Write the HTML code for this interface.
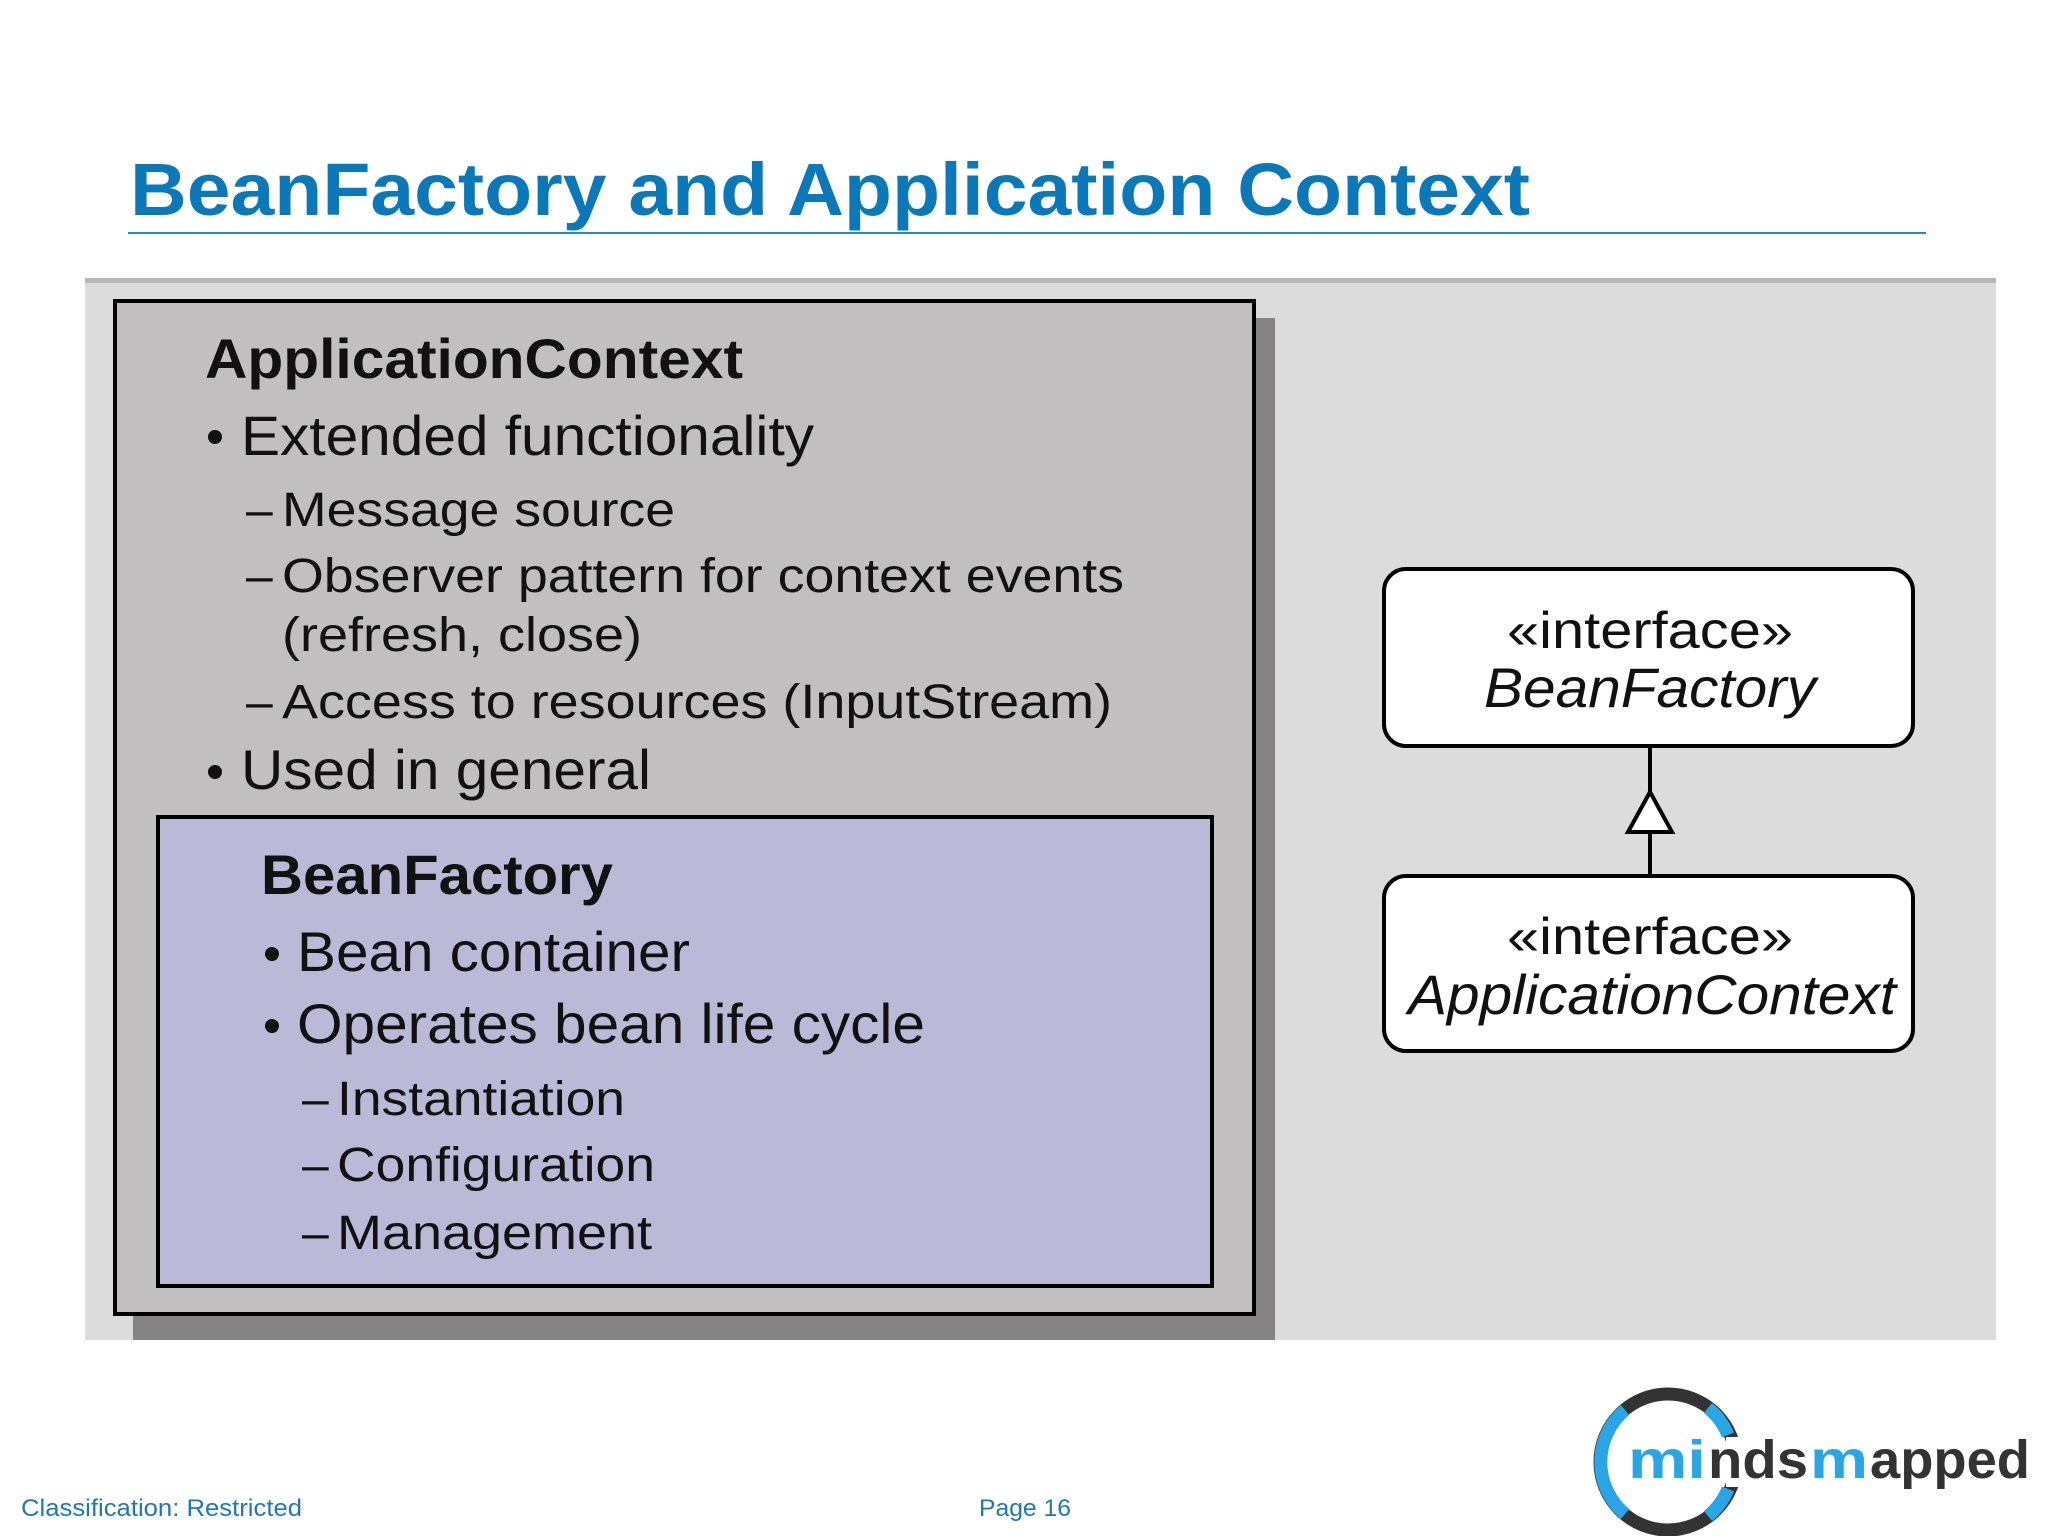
<!DOCTYPE html>
<html><head><meta charset="utf-8"><style>
html,body{margin:0;padding:0;background:#fff;}
svg{display:block;}
</style></head><body>
<svg width="2048" height="1536" viewBox="0 0 2048 1536" xmlns="http://www.w3.org/2000/svg" font-family="Liberation Sans, sans-serif">
<rect width="2048" height="1536" fill="#ffffff"/>
<text x="130" y="215" font-size="74" font-weight="bold" fill="#0a78b9" textLength="1400" lengthAdjust="spacingAndGlyphs">BeanFactory and Application Context</text>
<rect x="128" y="232" width="1798" height="2" fill="#1e8ccc"/>
<rect x="85" y="280" width="1911" height="1060" fill="#dddcdd"/>
<rect x="85" y="278" width="1911" height="5" fill="#b8b8b8"/>
<rect x="133" y="318" width="1142" height="1022" fill="#858383"/>
<rect x="115" y="301" width="1139" height="1013" fill="#c1bfbf" stroke="#000" stroke-width="4"/>
<rect x="158" y="817" width="1054" height="469" fill="#babad8" stroke="#000" stroke-width="4"/>
<g fill="#111">
<text x="205" y="378" font-size="56" font-weight="bold" textLength="538" lengthAdjust="spacingAndGlyphs">ApplicationContext</text>
<circle cx="215" cy="437" r="7"/>
<text x="241" y="455" font-size="56" textLength="573" lengthAdjust="spacingAndGlyphs">Extended functionality</text>
<text x="246" y="526" font-size="48">–</text>
<text x="282" y="526" font-size="48" textLength="393" lengthAdjust="spacingAndGlyphs">Message source</text>
<text x="246" y="592" font-size="48">–</text>
<text x="282" y="592" font-size="48" textLength="842" lengthAdjust="spacingAndGlyphs">Observer pattern for context events</text>
<text x="282" y="651" font-size="48" textLength="360" lengthAdjust="spacingAndGlyphs">(refresh, close)</text>
<text x="246" y="718" font-size="48">–</text>
<text x="282" y="718" font-size="48" textLength="830" lengthAdjust="spacingAndGlyphs">Access to resources (InputStream)</text>
<circle cx="215" cy="772" r="7"/>
<text x="241" y="789" font-size="56" textLength="410" lengthAdjust="spacingAndGlyphs">Used in general</text>
<text x="261" y="894" font-size="56" font-weight="bold" textLength="352" lengthAdjust="spacingAndGlyphs">BeanFactory</text>
<circle cx="272" cy="954" r="7"/>
<text x="297" y="971" font-size="56" textLength="393" lengthAdjust="spacingAndGlyphs">Bean container</text>
<circle cx="272" cy="1026" r="7"/>
<text x="297" y="1043" font-size="56" textLength="628" lengthAdjust="spacingAndGlyphs">Operates bean life cycle</text>
<text x="302" y="1115" font-size="48">–</text>
<text x="337" y="1115" font-size="48" textLength="288" lengthAdjust="spacingAndGlyphs">Instantiation</text>
<text x="302" y="1181" font-size="48">–</text>
<text x="337" y="1181" font-size="48" textLength="318" lengthAdjust="spacingAndGlyphs">Configuration</text>
<text x="302" y="1249" font-size="48">–</text>
<text x="337" y="1249" font-size="48" textLength="315" lengthAdjust="spacingAndGlyphs">Management</text>
</g>
<rect x="1384" y="569" width="529" height="177" rx="22" fill="#fff" stroke="#000" stroke-width="4"/>
<rect x="1384" y="876" width="529" height="175" rx="22" fill="#fff" stroke="#000" stroke-width="4"/>
<line x1="1650" y1="746" x2="1650" y2="876" stroke="#000" stroke-width="4"/>
<polygon points="1650,792 1628,832 1672,832" fill="#fff" stroke="#000" stroke-width="4"/>
<g fill="#111" text-anchor="middle">
<text x="1650" y="648" font-size="52" textLength="286" lengthAdjust="spacingAndGlyphs">«interface»</text>
<text x="1650" y="707" font-size="56" font-style="italic" textLength="332" lengthAdjust="spacingAndGlyphs">BeanFactory</text>
<text x="1650" y="954" font-size="52" textLength="286" lengthAdjust="spacingAndGlyphs">«interface»</text>
<text x="1652" y="1014" font-size="56" font-style="italic" textLength="488" lengthAdjust="spacingAndGlyphs">ApplicationContext</text>
</g>
<text x="21" y="1516" font-size="24" fill="#1e78b4" textLength="281" lengthAdjust="spacingAndGlyphs">Classification: Restricted</text>
<text x="979" y="1516" font-size="24" fill="#1e78b4" textLength="92" lengthAdjust="spacingAndGlyphs">Page 16</text>
<g fill="none" stroke-width="13">
<circle cx="1668" cy="1462" r="68" stroke="#333"/>
<path d="M1625,1410 A68,68 0 0 0 1625,1514" stroke="#2aa6e6"/>
<path d="M1708,1408 A68,68 0 0 1 1728,1435" stroke="#2aa6e6"/>
<path d="M1728,1489 A68,68 0 0 1 1708,1516" stroke="#2aa6e6"/>
</g>
<rect x="1726" y="1437" width="30" height="50" fill="#fff"/>
<g font-size="54" font-weight="bold">
<text x="1628" y="1478" fill="#2aa6e6" textLength="78" lengthAdjust="spacingAndGlyphs">mi</text>
<text x="1708" y="1478" fill="#333" textLength="100" lengthAdjust="spacingAndGlyphs">nds</text>
<text x="1810" y="1478" fill="#2aa6e6" textLength="58" lengthAdjust="spacingAndGlyphs">m</text>
<text x="1870" y="1478" fill="#333" textLength="160" lengthAdjust="spacingAndGlyphs">apped</text>
</g>
</svg>
</body></html>
